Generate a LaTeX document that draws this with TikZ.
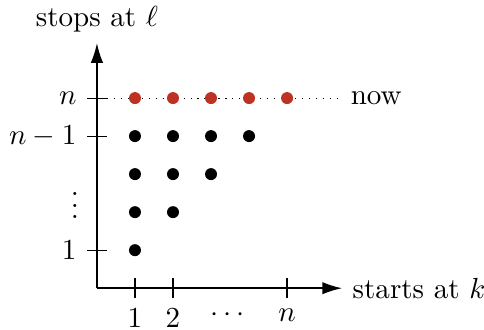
\documentclass[tikz,border=0pt]{standalone}
\usepackage{amsmath}
\usepackage{amssymb}
\usetikzlibrary{arrows.meta}
\definecolor{nowred}{RGB}{190,50,35}

\begin{document}
\begin{tikzpicture}[>={Latex[length=2.4mm,width=1.5mm]}, x=0.46cm, y=0.46cm, semithick,
	dot/.style={circle, fill, inner sep=0pt, minimum size=1.45mm},
	reddot/.style={dot, fill=nowred}]
		\useasboundingbox (-2.55,-1.08) rectangle (10.18,7.58);

		% axes
		\coordinate (O) at (0, 0);
		\coordinate (xend) at (6.45, 0);
		\coordinate (yend) at (0, 6.45);
		\draw[->] (O) -- (xend);
		\draw[->] (O) -- (yend);
		\node[right] (xlab) at (xend) {starts at $k$};
		\node[above] (ylab) at (yend) {stops at $\ell$};

		% ticks on the k axis
		\draw[thin] (1, -0.26) -- (1, 0.26);
		\draw[thin] (2, -0.26) -- (2, 0.26);
		\draw[thin] (5, -0.26) -- (5, 0.26);
		\node[below] (k1) at (1, -0.26) {$1$};
		\node[below] (k2) at (2, -0.26) {$2$};
		\node[below] (kdots) at (3.5, -0.26) {$\cdots$};
		\node[below] (kn) at (5, -0.26) {$n$};

		% ticks on the l axis
		\draw[thin] (-0.26, 1) -- (0.26, 1);
		\draw[thin] (-0.26, 4) -- (0.26, 4);
		\draw[thin] (-0.26, 5) -- (0.26, 5);
		\node[left] (l1) at (-0.26, 1) {$1$};
		\node (ldots) at (-0.58, 2.4) {$\vdots$};
		\node[left] (lm) at (-0.26, 4) {$n-1$};
		\node[left] (ln) at (-0.26, 5) {$n$};

		% the line for now
		\coordinate (nowend) at (6.4, 5);
		\draw[dotted, thin] (0.26, 5) -- (nowend);
		\node[right] (now) at (nowend) {now};

		% intervals
		\node[dot] (d11) at (1, 1) {};
		\node[dot] (d12) at (1, 2) {};
		\node[dot] (d22) at (2, 2) {};
		\node[dot] (d13) at (1, 3) {};
		\node[dot] (d23) at (2, 3) {};
		\node[dot] (d33) at (3, 3) {};
		\node[dot] (d14) at (1, 4) {};
		\node[dot] (d24) at (2, 4) {};
		\node[dot] (d34) at (3, 4) {};
		\node[dot] (d44) at (4, 4) {};
		\node[reddot] (d15) at (1, 5) {};
		\node[reddot] (d25) at (2, 5) {};
		\node[reddot] (d35) at (3, 5) {};
		\node[reddot] (d45) at (4, 5) {};
		\node[reddot] (d55) at (5, 5) {};

		\end{tikzpicture}
\end{document}
